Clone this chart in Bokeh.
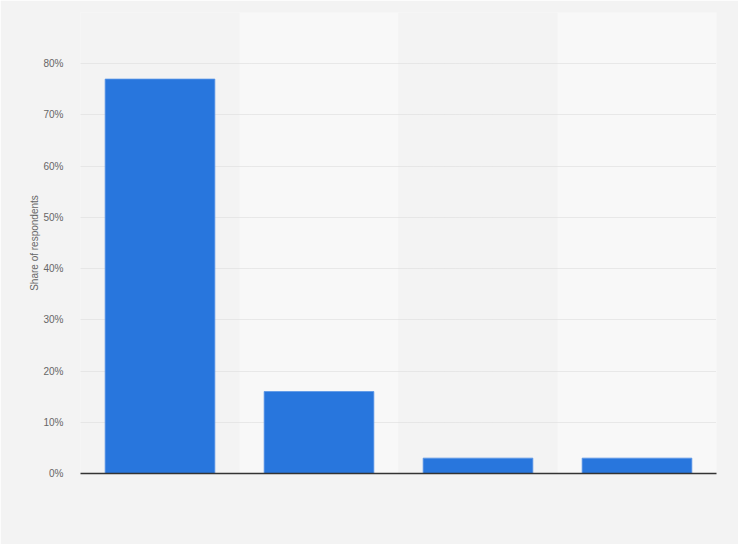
from bokeh.plotting import figure
from bokeh.models import Range1d, FactorRange, FixedTicker, NumeralTickFormatter
from bokeh.embed import file_html
from bokeh.resources import INLINE

# data
categories = ["Option 1", "Option 2", "Option 3", "Option 4"]
shares = [77, 16, 3, 3]
y_ticks = [0, 10, 20, 30, 40, 50, 60, 70, 80, 90]
band_colors = ["#f3f3f3", "#f8f8f8", "#f3f3f3", "#f8f8f8"]

p = figure(
    width=738, height=544,
    x_range=FactorRange(*categories, range_padding=0),
    y_range=Range1d(0, 90),
    output_backend="svg", toolbar_location=None,
    min_border_left=80, min_border_right=22, min_border_top=12, min_border_bottom=71,
)
p.background_fill_color = "#f3f3f3"
p.border_fill_color = "#f3f3f3"
p.outline_line_color = None

# alternating column bands
p.vbar(x=categories, top=[90] * len(categories), width=1.0,
       fill_color=band_colors, line_color=None, level="underlay")

p.vbar(x=categories, top=shares, width=0.69, fill_color="#2876dd",
       line_color="#5a95e6", line_width=0.8)

# y axis
yax = p.yaxis[0]
yax.ticker = FixedTicker(ticks=y_ticks)
yax.formatter = NumeralTickFormatter(format="0")
yax.major_label_overrides = {t: ("" if t == 90 else f"{t}%") for t in y_ticks}
yax.axis_line_color = None
yax.major_tick_line_color = None
yax.minor_tick_line_color = None
yax.major_label_standoff = 11
yax.major_label_text_font = "Liberation Sans"
yax.major_label_text_font_size = "10px"
yax.major_label_text_color = "#666666"
yax.axis_label = "Share of respondents"
yax.axis_label_text_font = "Liberation Sans"
yax.axis_label_text_font_size = "10px"
yax.axis_label_text_font_style = "normal"
yax.axis_label_text_color = "#666666"
yax.axis_label_standoff = 0

# x axis
xax = p.xaxis[0]
xax.axis_line_color = "#333333"
xax.axis_line_width = 1.5
xax.major_tick_line_color = None
xax.minor_tick_line_color = None
xax.major_label_text_color = None
xax.major_label_text_font_size = "10px"

p.xgrid.grid_line_color = None
p.ygrid.ticker = FixedTicker(ticks=y_ticks)
p.ygrid.grid_line_color = "#d9d9d9"
p.ygrid.grid_line_dash = "1 1"
p.ygrid.grid_line_width = 1

open("out.html", "w").write(file_html(p, INLINE))
